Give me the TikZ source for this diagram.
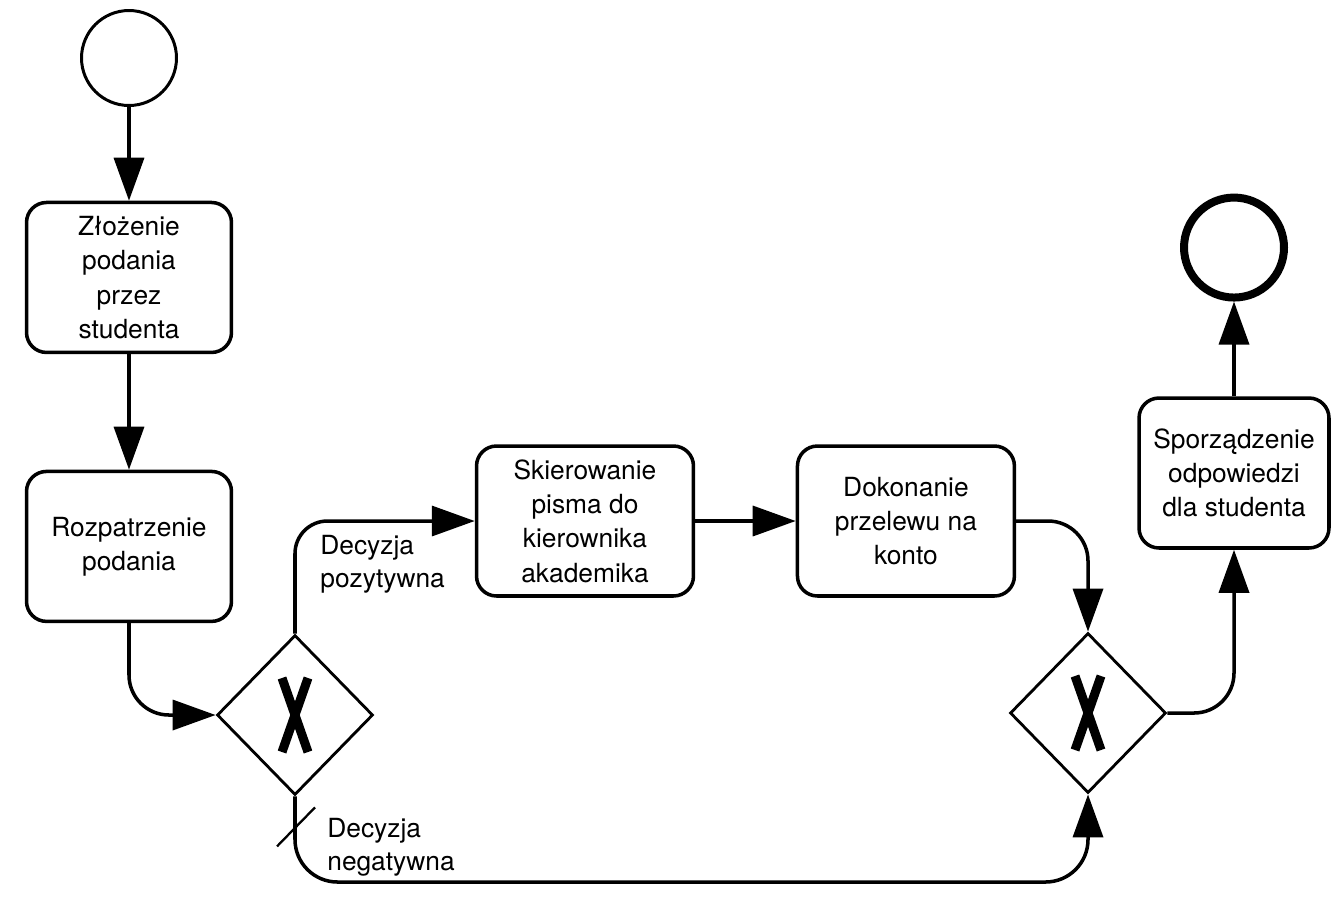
\documentclass[tikz,border=0pt]{standalone}
\usepackage{fontspec}
\setmainfont{TeX Gyre Heros}
\usepackage{tikz}
\usetikzlibrary{positioning,shapes.geometric,arrows.meta}

\tikzset{
  task/.style={draw, rounded corners=0.4cm, line width=2pt, minimum width=4.1cm,
    minimum height=3cm, align=center, font=\fontsize{15}{19.5}\selectfont},
  gateway/.style={draw, diamond, line width=1.6pt, minimum width=3.12cm,
    minimum height=3.2cm, inner sep=0pt,
    path picture={\draw[line width=0.18cm]
      ([shift={(-13,37)}]path picture bounding box.center) -- ([shift={(13,-37)}]path picture bounding box.center)
      ([shift={(13,37)}]path picture bounding box.center) -- ([shift={(-13,-37)}]path picture bounding box.center);}},
  startev/.style={draw, circle, line width=1.7pt, minimum size=1.9cm},
  endev/.style={draw, circle, line width=0.16cm, minimum size=2cm},
  flow/.style={->, line width=2pt},
  lbl/.style={align=left, inner sep=0pt, font=\fontsize{15}{19}\selectfont}
}

\begin{document}
\begin{tikzpicture}[>={Triangle[length=0.86cm,width=0.6cm]}, x=0.02cm, y=0.02cm]
  \useasboundingbox (0,0) rectangle (1331,-904);

  \node [startev] (start) at (129,-58) {};
  \node [task, below of=start, node distance=4.39cm] (zlozenie) {Złożenie\\podania\\przez\\studenta};
  \node [task, below of=zlozenie, node distance=5.38cm] (rozpatrzenie) {Rozpatrzenie\\podania};
  \node [gateway] (gw1) at (295,-715) {};
  \node [task, minimum width=4.34cm] (skierowanie) at (585,-521) {Skierowanie\\pisma do\\kierownika\\akademika};
  \node [task, minimum width=4.34cm, right of=skierowanie, node distance=6.42cm] (przelew) {Dokonanie\\przelewu na\\konto};
  \node [gateway] (gw2) at (1088,-713) {};
  \node [task, minimum width=3.8cm] (odpowiedz) at (1234,-473) {Sporządzenie\\odpowiedzi\\dla studenta};
  \node [endev, above of=odpowiedz, node distance=4.51cm] (stop) {};

  \coordinate (dol) at (295,-882);

  \draw [flow] (start) -- (zlozenie);
  \draw [flow] (zlozenie) -- (rozpatrzenie);
  \draw [flow, rounded corners=0.8cm] (rozpatrzenie) |- (gw1);
  \draw [flow, rounded corners=0.65cm] (gw1) |- (skierowanie);
  \draw [flow] (skierowanie) -- (przelew);
  \draw [flow, rounded corners=0.8cm] (przelew) -| (gw2);
  \draw [flow, rounded corners=0.8cm] (gw2) -| (odpowiedz);
  \draw [flow] (odpowiedz) -- (stop);
  \draw [flow, rounded corners=0.85cm] (gw1) -- (dol) -| (gw2);
  \draw [line width=1.3pt] ([shift={(-18,-50)}]gw1.south) -- ([shift={(20,-11)}]gw1.south);

  \node [lbl, anchor=north west] (tak) at (320,-535) {Decyzja\\pozytywna};
  \node [lbl, anchor=north west] (nie) at (327,-818) {Decyzja\\negatywna};
\end{tikzpicture}
\end{document}
